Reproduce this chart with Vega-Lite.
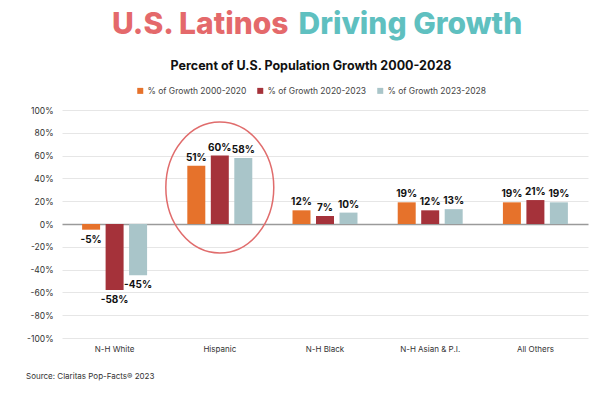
{
  "$schema": "https://vega.github.io/schema/vega-lite/v6.json",
  "width": 526,
  "height": 228,
  "autosize": "none",
  "padding": {"left": 62, "top": 110, "right": 12, "bottom": 60},
  "background": "white",
  "config": {"font": "Inter", "view": {"stroke": null}},
  "title": {
    "text": "Source: Claritas Pop-Facts® 2023",
    "orient": "bottom",
    "anchor": "start",
    "frame": "group",
    "dx": -36,
    "offset": 20,
    "fontSize": 8,
    "fontWeight": "normal",
    "color": "#333333",
    "font": "Inter"
  },
  "datasets": {
    "growth": [
      {"category": "N-H White", "series": "% of Growth 2000-2020", "value": -5},
      {"category": "N-H White", "series": "% of Growth 2020-2023", "value": -58},
      {"category": "N-H White", "series": "% of Growth 2023-2028", "value": -45},
      {"category": "Hispanic", "series": "% of Growth 2000-2020", "value": 51},
      {"category": "Hispanic", "series": "% of Growth 2020-2023", "value": 60},
      {"category": "Hispanic", "series": "% of Growth 2023-2028", "value": 58},
      {"category": "N-H Black", "series": "% of Growth 2000-2020", "value": 12},
      {"category": "N-H Black", "series": "% of Growth 2020-2023", "value": 7},
      {"category": "N-H Black", "series": "% of Growth 2023-2028", "value": 10},
      {"category": "N-H Asian & P.I.", "series": "% of Growth 2000-2020", "value": 19},
      {"category": "N-H Asian & P.I.", "series": "% of Growth 2020-2023", "value": 12},
      {"category": "N-H Asian & P.I.", "series": "% of Growth 2023-2028", "value": 13},
      {"category": "All Others", "series": "% of Growth 2000-2020", "value": 19},
      {"category": "All Others", "series": "% of Growth 2020-2023", "value": 21},
      {"category": "All Others", "series": "% of Growth 2023-2028", "value": 19}
    ],
    "highlight": [{"category": "Hispanic", "value": 32}]
  },
  "encoding": {
    "x": {
      "field": "category",
      "type": "nominal",
      "sort": ["N-H White", "Hispanic", "N-H Black", "N-H Asian & P.I.", "All Others"],
      "scale": {"paddingInner": 0.335, "paddingOuter": 0.1675},
      "axis": {
        "labelAngle": 0,
        "domain": false,
        "ticks": false,
        "labelPadding": 7,
        "labelFontSize": 8,
        "labelColor": "#333333",
        "title": "U.S. Latinos",
        "titleX": 226,
        "titleY": -305,
        "titleAlign": "right",
        "titleBaseline": "alphabetic",
        "titleFontSize": 30,
        "titleFontWeight": 800,
        "titleColor": "#E4696B",
        "titleFont": "Inter",
        "titleLimit": 400
      }
    },
    "y": {
      "field": "value",
      "type": "quantitative",
      "scale": {"domain": [-100, 100], "nice": false},
      "axis": {
        "values": [-100, -80, -60, -40, -20, 0, 20, 40, 60, 80, 100],
        "labelExpr": "datum.value + '%'",
        "labelOverlap": false,
        "grid": true,
        "gridColor": {"condition": {"test": "datum.value === 0", "value": "#9a9a9a"}, "value": "#e6e6e6"},
        "gridWidth": {"condition": {"test": "datum.value === 0", "value": 1.5}, "value": 1},
        "domain": false,
        "ticks": false,
        "labelPadding": 9,
        "labelFontSize": 8.5,
        "labelColor": "#333333",
        "title": "Driving Growth",
        "titleX": 236,
        "titleY": -77,
        "titleAngle": 0,
        "titleAlign": "left",
        "titleBaseline": "alphabetic",
        "titleFontSize": 30,
        "titleFontWeight": 800,
        "titleColor": "#5FC0C0",
        "titleFont": "Inter",
        "titleLimit": 400
      }
    }
  },
  "layer": [
    {
      "data": {"name": "growth"},
      "mark": {"type": "bar"},
      "encoding": {
        "xOffset": {
          "field": "series",
          "type": "nominal",
          "sort": ["% of Growth 2000-2020", "% of Growth 2020-2023", "% of Growth 2023-2028"],
          "scale": {"paddingInner": 0.234, "paddingOuter": 0.106}
        },
        "color": {
          "field": "series",
          "type": "nominal",
          "scale": {
            "domain": ["% of Growth 2000-2020", "% of Growth 2020-2023", "% of Growth 2023-2028"],
            "range": ["#E6722B", "#A5323A", "#A9C5C9"]
          },
          "legend": {
            "orient": "none",
            "legendX": 74,
            "legendY": -50,
            "direction": "horizontal",
            "title": "Percent of U.S. Population Growth 2000-2028",
            "titleFontSize": 12.5,
            "titleFontWeight": "bold",
            "titleColor": "#111111",
            "titleAnchor": "middle",
            "titlePadding": 14,
            "titleLimit": 500,
            "labelFontSize": 8.5,
            "labelColor": "#444444",
            "labelLimit": 200,
            "symbolType": "square",
            "symbolSize": 36,
            "symbolStrokeWidth": 0,
            "labelOffset": 3,
            "columnPadding": 9
          }
        }
      }
    },
    {
      "data": {"name": "growth"},
      "transform": [
        {"filter": "datum.value >= 0"},
        {"calculate": "datum.value + '%'", "as": "label"}
      ],
      "mark": {"type": "text", "baseline": "bottom", "dy": -3, "fontSize": 10, "fontWeight": "bold", "color": "#111111"},
      "encoding": {
        "xOffset": {"field": "series", "type": "nominal", "sort": ["% of Growth 2000-2020", "% of Growth 2020-2023", "% of Growth 2023-2028"]},
        "text": {"field": "label", "type": "nominal"}
      }
    },
    {
      "data": {"name": "growth"},
      "transform": [
        {"filter": "datum.value < 0"},
        {"calculate": "datum.value + '%'", "as": "label"}
      ],
      "mark": {"type": "text", "baseline": "top", "dy": 5, "fontSize": 10, "fontWeight": "bold", "color": "#111111"},
      "encoding": {
        "xOffset": {"field": "series", "type": "nominal", "sort": ["% of Growth 2000-2020", "% of Growth 2020-2023", "% of Growth 2023-2028"]},
        "text": {"field": "label", "type": "nominal"}
      }
    },
    {
      "data": {"name": "highlight"},
      "mark": {
        "type": "point",
        "shape": "M 0 -1 C 0.455 -1 0.824 -0.552 0.824 0 C 0.824 0.552 0.455 1 0 1 C -0.455 1 -0.824 0.552 -0.824 0 C -0.824 -0.552 -0.455 -1 0 -1 Z",
        "size": 17161,
        "filled": false,
        "color": "#E06C6C",
        "stroke": "#E06C6C",
        "strokeWidth": 1.5,
        "opacity": 1
      }
    }
  ]
}
